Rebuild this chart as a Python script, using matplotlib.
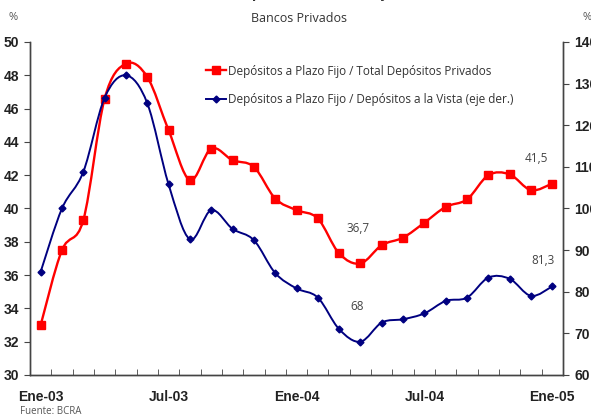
import numpy as np
import matplotlib

matplotlib.use("Agg")
import matplotlib.pyplot as plt  # noqa: E402
from matplotlib.path import Path  # noqa: E402
from matplotlib.patches import PathPatch  # noqa: E402
from matplotlib.lines import Line2D  # noqa: E402

MONTHS = ["Ene-03", "Feb-03", "Mar-03", "Abr-03", "May-03", "Jun-03", "Jul-03",
          "Ago-03", "Sep-03", "Oct-03", "Nov-03", "Dic-03", "Ene-04", "Feb-04",
          "Mar-04", "Abr-04", "May-04", "Jun-04", "Jul-04", "Ago-04", "Sep-04",
          "Oct-04", "Nov-04", "Dic-04", "Ene-05"]
PF_TOTAL = [33.0, 37.5, 39.3, 46.6, 48.7, 47.9, 44.7, 41.7, 43.6, 42.9, 42.5,
            40.6, 39.9, 39.4, 37.3, 36.7, 37.8, 38.25, 39.15, 40.1, 40.55,
            42.0, 42.05, 41.1, 41.5]
PF_VISTA = [84.8, 100.0, 108.8, 126.6, 132.0, 125.3, 105.8, 92.6, 99.6, 95.1,
            92.4, 84.5, 80.8, 78.6, 71.0, 68.0, 72.6, 73.4, 74.8, 77.8, 78.6,
            83.4, 83.1, 79.0, 81.3]
LABEL_MONTHS = ["Ene-03", "Jul-03", "Ene-04", "Jul-04", "Ene-05"]

RED = "#ff0000"
NAVY = "#000080"
TXT = "#333333"


def smooth_path(x, y):
    """Excel-like smoothed line (Catmull-Rom as cubic Bezier segments)."""
    pts = np.column_stack([x, y]).astype(float)
    n = len(pts)
    verts = [pts[0]]
    codes = [Path.MOVETO]
    for i in range(n - 1):
        p0 = pts[i - 1] if i > 0 else pts[i]
        p1 = pts[i]
        p2 = pts[i + 1]
        p3 = pts[i + 2] if i + 2 < n else pts[i + 1]
        c1 = p1 + (p2 - p0) / 6.0
        c2 = p2 - (p3 - p1) / 6.0
        verts += [c1, c2, p2]
        codes += [Path.CURVE4] * 3
    return Path(verts, codes)


x = np.arange(len(MONTHS))

fig = plt.figure(figsize=(5.91, 4.16), dpi=100)
ax = fig.add_axes([30 / 591, 1 - 375 / 416, 533 / 591, 333 / 416])
ax2 = ax.twinx()

ax.add_patch(PathPatch(smooth_path(x, PF_TOTAL), fill=False, edgecolor=RED, lw=1.7))
ax.plot(x, PF_TOTAL, ls="none", marker="s", ms=5.5, color=RED)
ax2.add_patch(PathPatch(smooth_path(x, PF_VISTA), fill=False, edgecolor=NAVY, lw=1.4))
ax2.plot(x, PF_VISTA, ls="none", marker="D", ms=3.5, color=NAVY)

ax.set_xlim(-0.5, len(MONTHS) - 0.5)
ax.set_ylim(30, 50)
ax2.set_ylim(60, 140)
ax.set_yticks(np.arange(30, 51, 2))
ax2.set_yticks(np.arange(60, 141, 10))

ax.set_xticks([MONTHS.index(m) for m in LABEL_MONTHS])
ax.set_xticklabels(LABEL_MONTHS)
ax.set_xticks(np.arange(-0.5, len(MONTHS), 1.0), minor=True)
ax.tick_params(axis="x", which="major", length=0, pad=11)
ax.tick_params(axis="x", which="minor", direction="in", length=4, color="#444444")
ax.tick_params(axis="y", direction="out", length=4, color="#444444", pad=4)
ax2.tick_params(axis="y", direction="out", length=4, color="#444444", pad=4)

for a in (ax, ax2):
    a.spines["top"].set_visible(False)
    for s in ("left", "right", "bottom"):
        a.spines[s].set_color("#444444")
        a.spines[s].set_linewidth(1.0)
    for lab in a.get_xticklabels() + a.get_yticklabels():
        lab.set_fontweight("bold")
        lab.set_fontsize(10)
        lab.set_color("#222222")
        lab.set_family("Liberation Sans")

handles = [
    Line2D([], [], color=RED, lw=1.7, marker="s", ms=5.5),
    Line2D([], [], color=NAVY, lw=1.4, marker="D", ms=3.5),
]
labels = ["Depósitos a Plazo Fijo / Total Depósitos Privados",
          "Depósitos a Plazo Fijo / Depósitos a la Vista (eje der.)"]
fig.legend(handles, labels, loc="upper left", bbox_to_anchor=(195 / 591, 1 - 54 / 416),
           frameon=False, handlelength=1.7, handletextpad=0.2, labelspacing=1.3,
           prop={"family": "Open Sans", "size": 8.5}, labelcolor=TXT)

note = {"family": "Open Sans", "size": 8.5, "color": "#444444", "ha": "center", "va": "center"}
fig.text(536 / 591, 1 - 158 / 416, "41,5", **note)
fig.text(543 / 591, 1 - 260 / 416, "81,3", **note)
fig.text(358 / 591, 1 - 228 / 416, "36,7", **note)
fig.text(357 / 591, 1 - 307 / 416, "68", **note)

fig.text(299 / 591, 1 - 18 / 416, "Bancos Privados", family="Open Sans", size=9,
         color=TXT, ha="center", va="center")
fig.text(250 / 591, 1 + 6 / 416, "Evolución de los Depósitos a Plazo Fijo",
         family="Liberation Sans", weight="bold", size=11, color=TXT, ha="center", va="center")
fig.text(13 / 591, 1 - 18 / 416, "%", family="Open Sans", size=8, color="#555555",
         ha="center", va="center")
fig.text(587 / 591, 1 - 18 / 416, "%", family="Open Sans", size=8, color="#555555",
         ha="center", va="center")
fig.text(20 / 591, 1 - 411 / 416, "Fuente: BCRA", family="Open Sans", size=7,
         color="#555555", ha="left", va="center")

fig.savefig("out.png", dpi=100)
